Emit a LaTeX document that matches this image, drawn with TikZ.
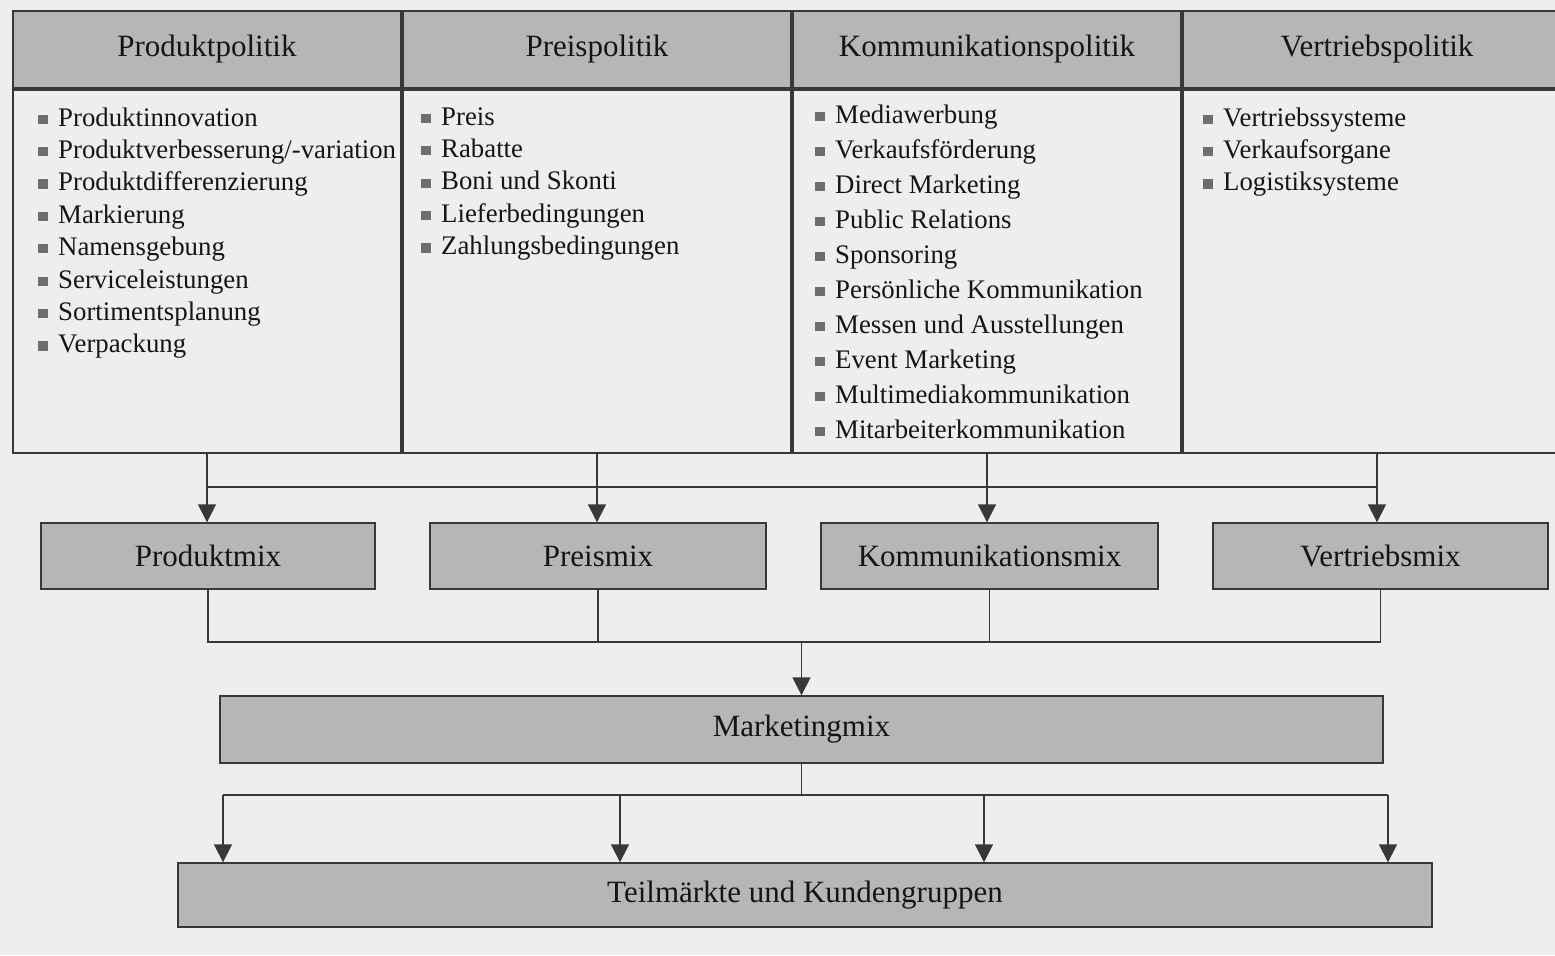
\documentclass[tikz,border=0pt]{standalone}
\usepackage{fontspec}
\setmainfont{Liberation Serif}
\usetikzlibrary{positioning,arrows.meta}
\definecolor{papier}{HTML}{EEEEEE}
\definecolor{kasten}{HTML}{B6B6B6}
\definecolor{linie}{HTML}{383838}
\definecolor{punkt}{HTML}{6E6E6E}
\definecolor{schrift}{HTML}{151515}
\newcommand{\pkt}{\textcolor{punkt}{\rule[1.1pt]{4.6pt}{4.6pt}}\hspace{5.3pt}}

\begin{document}
\begin{tikzpicture}[x=0.5pt,y=-0.5pt,
    text=schrift,
    kopf/.style={draw=linie,fill=kasten,line width=0.9pt,minimum width=194.1pt,
        minimum height=38.5pt,inner sep=0pt,font=\fontsize{15.5}{18}\selectfont},
    feld/.style={draw=linie,line width=0.9pt,minimum width=194.1pt,
        minimum height=181.5pt,inner sep=0pt},
    liste/.style={anchor=north west,align=left,inner sep=0pt,
        font=\fontsize{13.4}{16.2}\selectfont},
    mix/.style={draw=linie,fill=kasten,line width=0.7pt,minimum height=33pt,
        inner sep=0pt,font=\fontsize{15.5}{18}\selectfont},
    verb/.style={draw=linie,line width=0.8pt},
    pfeil/.style={verb,-{Triangle[length=9pt,width=9pt]}},
]
\useasboundingbox (0,0) rectangle (1555,955);
\fill[papier] (0,0) rectangle (1555,955);
\clip (0,0) rectangle (1555,955);

% Kopfzeile der Tabelle
\node[kopf,anchor=north west] (kpp) at (12,10) {Produktpolitik};
\node[kopf,right=0pt of kpp] (kpr) {Preispolitik};
\node[kopf,right=0pt of kpr] (kko) {Kommunikationspolitik};
\node[kopf,right=0pt of kko] (kve) {Vertriebspolitik};

% Felder
\node[feld,below=0pt of kpp] (fpp) {};
\node[feld,below=0pt of kpr] (fpr) {};
\node[feld,below=0pt of kko] (fko) {};
\node[feld,below=0pt of kve] (fve) {};

% Instrumente
\node[liste] (lpp) at (38,107) {\pkt Produktinnovation\\ \pkt Produktverbesserung/-variation\\
    \pkt Produktdifferenzierung\\ \pkt Markierung\\ \pkt Namensgebung\\
    \pkt Serviceleistungen\\ \pkt Sortimentsplanung\\ \pkt Verpackung};
\node[liste] (lpr) at (421,107) {\pkt Preis\\ \pkt Rabatte\\ \pkt Boni und Skonti\\
    \pkt Lieferbedingungen\\ \pkt Zahlungsbedingungen};
\node[liste,font=\fontsize{13.4}{17.5}\selectfont] (lko) at (815,104) {\pkt Mediawerbung\\
    \pkt Verkaufsförderung\\ \pkt Direct Marketing\\ \pkt Public Relations\\
    \pkt Sponsoring\\ \pkt Persönliche Kommunikation\\ \pkt Messen und Ausstellungen\\
    \pkt Event Marketing\\ \pkt Multimediakommunikation\\ \pkt Mitarbeiterkommunikation};
\node[liste] (lve) at (1203,107) {\pkt Vertriebssysteme\\ \pkt Verkaufsorgane\\
    \pkt Logistiksysteme};

% Teil-Mixe
\node[mix,minimum width=167pt] (mpp) at (208,556) {Produktmix};
\node[mix,minimum width=168pt] (mpr) at (598,556) {Preismix};
\node[mix,minimum width=168.5pt] (mko) at (989.5,556) {Kommunikationsmix};
\node[mix,minimum width=167.5pt] (mve) at (1380.5,556) {Vertriebsmix};

\node[mix,minimum width=581.5pt,minimum height=33.5pt] (mm) at (801.5,729.5) {Marketingmix};
\node[mix,minimum width=627pt,minimum height=32pt] (tk) at (805,895) {Teilmärkte und Kundengruppen};

% Verbindungen oben
\coordinate (b1) at (0,487);
\draw[verb] (fpp.south |- b1) -- (fve.south |- b1);
\draw[pfeil] (fpp.south) -- (fpp.south |- mpp.north);
\draw[pfeil] (fpr.south) -- (fpr.south |- mpr.north);
\draw[pfeil] (fko.south) -- (fko.south |- mko.north);
\draw[pfeil] (fve.south) -- (fve.south |- mve.north);

% Sammelleitung
\coordinate (b2) at (0,642);
\draw[verb] (mpp.south) -- (mpp.south |- b2) -- (mve.south |- b2) -- (mve.south);
\draw[verb] (mpr.south) -- (mpr.south |- b2);
\draw[verb] (mko.south) -- (mko.south |- b2);
\draw[pfeil] (mm.north |- b2) -- (mm.north);

% Verteilung unten
\coordinate (t1) at (223,795);
\coordinate (t2) at (620,795);
\coordinate (t3) at (984,795);
\coordinate (t4) at (1388,795);
\draw[verb] (mm.south) -- (mm.south |- t1);
\draw[verb] (t1) -- (t4);
\draw[pfeil] (t1) -- (t1 |- tk.north);
\draw[pfeil] (t2) -- (t2 |- tk.north);
\draw[pfeil] (t3) -- (t3 |- tk.north);
\draw[pfeil] (t4) -- (t4 |- tk.north);
\end{tikzpicture}
\end{document}
